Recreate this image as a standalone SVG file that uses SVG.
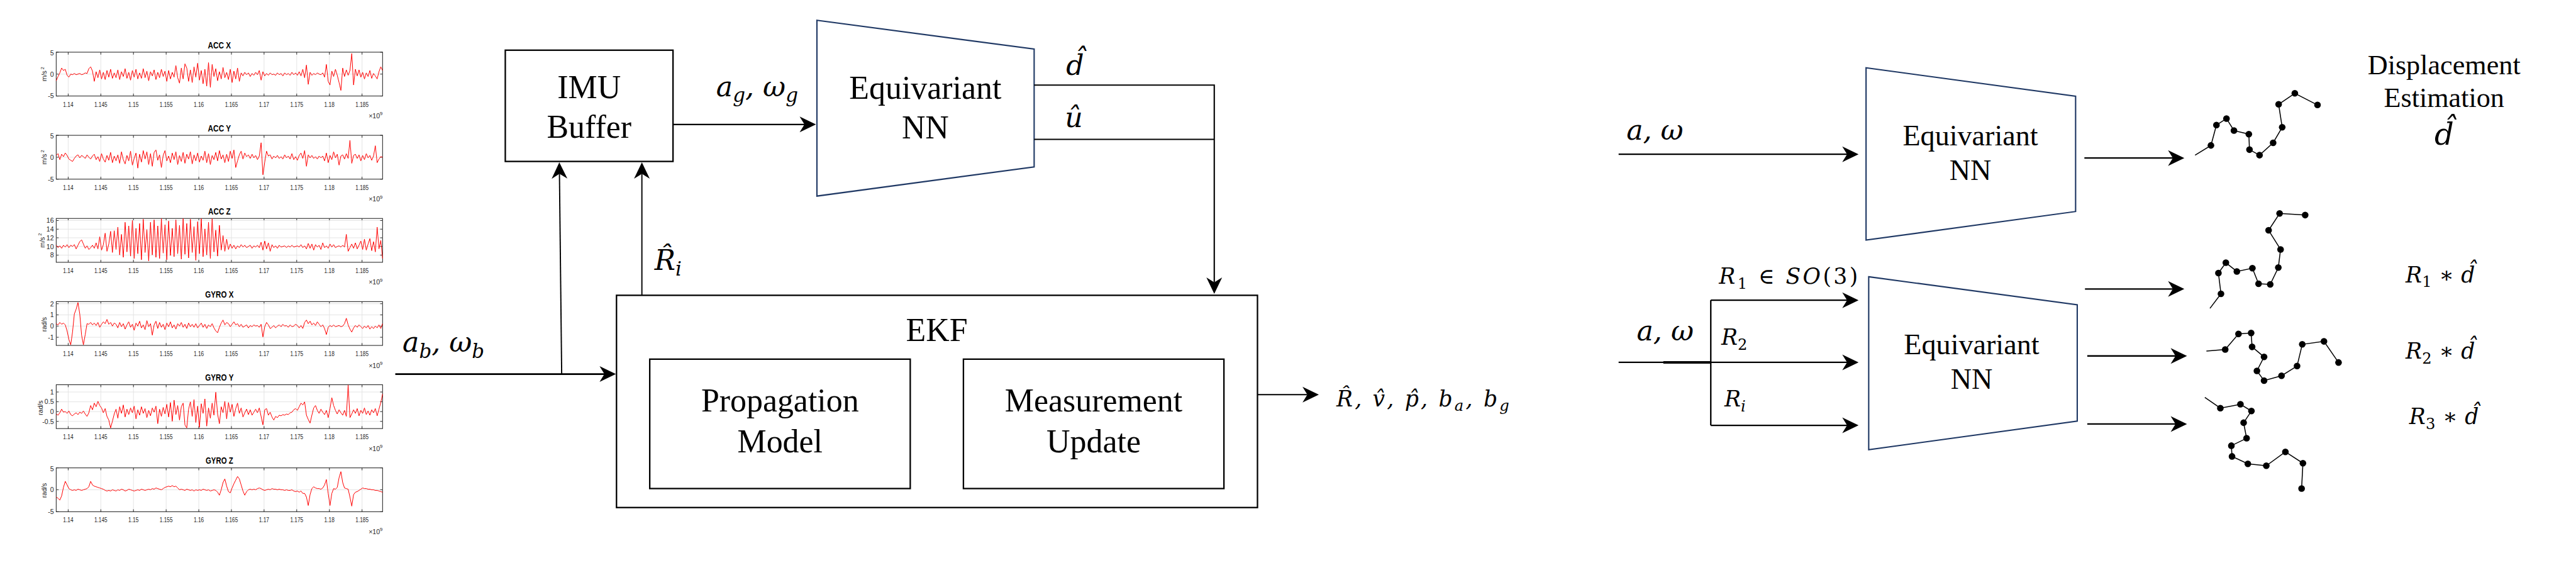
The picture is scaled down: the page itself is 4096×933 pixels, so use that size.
<svg xmlns="http://www.w3.org/2000/svg" width="4096" height="933" viewBox="0 0 4096 933">
<style>
.ax{fill:none;stroke:#262626;stroke-width:1.1}
.gr{fill:none;stroke:#e3e3e3;stroke-width:1}
.tk{fill:none;stroke:#262626;stroke-width:1}
.xt{font-family:"Liberation Sans",Arial,sans-serif;font-size:11px;fill:#262626;text-anchor:middle}
.yt{font-family:"Liberation Sans",Arial,sans-serif;font-size:11px;fill:#262626;text-anchor:end}
.yl{font-family:"Liberation Sans",Arial,sans-serif;font-size:11px;fill:#262626;text-anchor:middle}
.pt{font-family:"Liberation Sans",Arial,sans-serif;font-size:15px;font-weight:bold;fill:#000;text-anchor:middle}
.sig{fill:none;stroke:#ff0000;stroke-width:1;vector-effect:non-scaling-stroke;stroke-linejoin:round}
.bx{fill:#fff;stroke:#000;stroke-width:2.4}
.tz{fill:#fff;stroke:#1f3864;stroke-width:2.2}
.t{font-family:"Liberation Serif","Times New Roman",serif;font-size:54px;fill:#000;text-anchor:middle}
.ln{fill:none;stroke:#000;stroke-width:2.2}
.m{font-family:"DejaVu Serif",serif;font-style:italic;font-size:46px;fill:#000}
.ms{font-family:"DejaVu Serif",serif;font-style:italic;font-size:36px;fill:#000}
.sb{font-size:70%}
.up{font-style:normal}
.tr{fill:none;stroke:#000;stroke-width:1.6}
.dot{fill:#000}
</style>
<defs>
<marker id="ah" markerUnits="userSpaceOnUse" markerWidth="30" markerHeight="30" viewBox="-10 -15 30 30" refX="0" refY="0" orient="auto" overflow="visible"><path d="M19,0 L-8,-13 L0,0 L-8,13 Z" fill="#000"/></marker>
<g id="frame">
<path class="gr" d="M112.8,0V72.5M166.8,0V72.5M220.8,0V72.5M274.9,0V72.5M328.9,0V72.5M382.9,0V72.5M436.9,0V72.5M490.9,0V72.5M545,0V72.5M599,0V72.5"/>
<rect class="ax" x="93" y="0" width="540" height="72.5"/>
<path class="tk" d="M112.8,0v4M166.8,0v4M220.8,0v4M274.9,0v4M328.9,0v4M382.9,0v4M436.9,0v4M490.9,0v4M545,0v4M599,0v4M112.8,72.5v-4M166.8,72.5v-4M220.8,72.5v-4M274.9,72.5v-4M328.9,72.5v-4M382.9,72.5v-4M436.9,72.5v-4M490.9,72.5v-4M545,72.5v-4M599,72.5v-4"/>
<text class="xt" x="112.8" y="90.2" textLength="17" lengthAdjust="spacingAndGlyphs">1.14</text>
<text class="xt" x="166.8" y="90.2" textLength="21.5" lengthAdjust="spacingAndGlyphs">1.145</text>
<text class="xt" x="220.8" y="90.2" textLength="17" lengthAdjust="spacingAndGlyphs">1.15</text>
<text class="xt" x="274.9" y="90.2" textLength="21.5" lengthAdjust="spacingAndGlyphs">1.155</text>
<text class="xt" x="328.9" y="90.2" textLength="17" lengthAdjust="spacingAndGlyphs">1.16</text>
<text class="xt" x="382.9" y="90.2" textLength="21.5" lengthAdjust="spacingAndGlyphs">1.165</text>
<text class="xt" x="436.9" y="90.2" textLength="17" lengthAdjust="spacingAndGlyphs">1.17</text>
<text class="xt" x="490.9" y="90.2" textLength="21.5" lengthAdjust="spacingAndGlyphs">1.175</text>
<text class="xt" x="545" y="90.2" textLength="17" lengthAdjust="spacingAndGlyphs">1.18</text>
<text class="xt" x="599" y="90.2" textLength="21.5" lengthAdjust="spacingAndGlyphs">1.185</text>
<text class="yt" x="633" y="109.5">×10<tspan font-size="8" dy="-5">9</tspan></text>
</g>
</defs>
<g transform="scale(0.96105)">
<rect x="0" y="0" width="4262" height="971" fill="#fff"/>

<g id="imu-plots">
<g id="plot-acc-x">
<use href="#frame" y="86.3"/>
<path class="gr" d="M93,122.55H633"/>
<path class="tk" d="M93,86.3h4M93,122.55h4M93,158.8h4M633,86.3h-4M633,122.55h-4M633,158.8h-4"/>
<text class="yt" x="89" y="91.8">5</text><text class="yt" x="89" y="126.5">0</text><text class="yt" x="89" y="162.8">-5</text>
<text class="yl" transform="translate(77.5,122.5) rotate(-90)">m/s<tspan font-size="8" dx="2" dy="-5">2</tspan></text>
<text class="pt" x="363" y="79.8" textLength="38" lengthAdjust="spacingAndGlyphs">ACC X</text>
<path class="sig" transform="translate(93,122.55) scale(3,1)" d="M0,11L1,4 2,-2 3,-10 4,-6 5,-8 6,2 7,5 8,0 9,1 10,-1 11,1 12,0 13,-1 14,1 15,0 16,-2 17,-1 18,-9 19,-12 20,-5 21,12 22,-4 23,6 24,-7 25,8 26,-3 27,9 28,-6 29,5 30,-8 31,7 32,-2 33,6 34,-7 35,9 36,-4 37,4 38,-9 39,7 40,-3 41,10 42,-6 43,5 44,-8 45,8 46,-2 47,7 48,-9 49,6 50,-5 51,11 52,-4 53,3 54,-7 55,9 56,-3 57,6 58,-8 59,4 60,-5 61,12 62,-6 63,8 64,-3 65,5 66,-14 67,6 68,15 69,-10 70,8 71,-17 72,-10 73,12 74,-7 75,14 76,-12 77,5 78,-18 79,10 80,-6 81,16 82,-8 83,20 84,-19 85,22 86,-16 87,4 88,-9 89,11 90,-4 91,8 92,-11 93,6 94,-3 95,9 96,-8 97,14 98,-5 99,8 100,-10 101,12 102,-2 103,3 104,-3 105,1 106,-2 107,4 108,-1 109,2 110,-3 111,1 112,-6 113,10 114,-4 115,3 116,-1 117,2 118,-2 119,1 120,0 121,2 122,-2 123,1 124,-1 125,3 126,-2 127,1 128,-1 129,2 130,-3 131,1 132,-2 133,2 134,-4 135,3 136,-8 137,6 138,-15 139,17 140,-3 141,2 142,-1 143,1 144,-2 145,0 146,1 147,-2 148,5 149,-16 150,12 151,18 152,-5 153,4 154,-8 155,2 156,14 157,27 158,-10 159,4 160,-7 161,2 162,-6 163,-34 164,18 165,-8 166,3 167,-7 168,5 169,-3 170,8 171,-2 172,4 173,-6 174,7 175,-1 176,3 177,8 178,-4 179,-12 180,-6"/>
</g>
<g id="plot-acc-y">
<use href="#frame" y="223.8"/>
<path class="gr" d="M93,260.05H633"/>
<path class="tk" d="M93,223.8h4M93,260.05h4M93,296.3h4M633,223.8h-4M633,260.05h-4M633,296.3h-4"/>
<text class="yt" x="89" y="229.3">5</text><text class="yt" x="89" y="264">0</text><text class="yt" x="89" y="300.3">-5</text>
<text class="yl" transform="translate(77.5,260) rotate(-90)">m/s<tspan font-size="8" dx="2" dy="-5">2</tspan></text>
<text class="pt" x="363" y="217.3" textLength="38" lengthAdjust="spacingAndGlyphs">ACC Y</text>
<path class="sig" transform="translate(93,260.05) scale(3,1)" d="M0,-3L1,-6 2,4 3,-5 4,-1 5,-7 6,-3 7,3 8,5 9,7 10,2 11,-2 12,-4 13,1 14,-3 15,-1 16,2 17,-4 18,0 19,3 20,-2 21,-5 22,4 23,-1 24,7 25,-6 26,3 27,8 28,-3 29,5 30,-8 31,9 32,-2 33,6 34,-4 35,10 36,-9 37,4 38,11 39,-3 40,6 41,-10 42,13 43,2 44,-7 45,18 46,-5 47,8 48,-11 49,3 50,-9 51,12 52,-6 53,15 54,-8 55,-12 56,5 57,-4 58,17 59,-3 60,-11 61,6 62,-2 63,9 64,-7 65,4 66,-9 67,12 68,-3 69,7 70,-8 71,10 72,-5 73,3 74,-9 75,11 76,-4 77,6 78,-7 79,8 80,-2 81,5 82,-10 83,9 84,-6 85,12 86,-3 87,4 88,-8 89,6 90,-11 91,3 92,-4 93,9 94,-5 95,7 96,-10 97,2 98,-12 99,17 100,6 101,-4 102,-10 103,3 104,-7 105,-1 106,-4 107,2 108,-5 109,1 110,-3 111,4 112,-2 113,-24 114,29 115,8 116,-10 117,-2 118,-4 119,3 120,-2 121,1 122,-3 123,2 124,-1 125,3 126,-4 127,1 128,-2 129,3 130,-6 131,4 132,-1 133,5 134,-3 135,-7 136,2 137,-11 138,15 139,-4 140,1 141,-3 142,2 143,-1 144,3 145,-2 146,1 147,-2 148,6 149,-7 150,9 151,-3 152,4 153,-9 154,1 155,-5 156,13 157,-2 158,-4 159,3 160,-6 161,2 162,-28 163,10 164,-3 165,-5 166,2 167,-4 168,6 169,-3 170,4 171,-6 172,1 173,-3 174,5 175,-2 176,-19 177,9 178,3 179,-1 180,0"/>
</g>
<g id="plot-acc-z">
<use href="#frame" y="361.3"/>
<path class="gr" d="M93,364.7H633M93,379H633M93,393.3H633M93,407.6H633M93,421.9H633"/>
<path class="tk" d="M93,364.7h4M93,379h4M93,393.3h4M93,407.6h4M93,421.9h4M633,364.7h-4M633,379h-4M633,393.3h-4M633,407.6h-4M633,421.9h-4"/>
<text class="yt" x="89" y="368.7">16</text><text class="yt" x="89" y="383">14</text><text class="yt" x="89" y="397.3">12</text><text class="yt" x="89" y="411.6">10</text><text class="yt" x="89" y="425.9">8</text>
<text class="yl" transform="translate(73.5,397.5) rotate(-90)">m/s<tspan font-size="8" dx="2" dy="-5">2</tspan></text>
<text class="pt" x="363" y="354.8" textLength="37" lengthAdjust="spacingAndGlyphs">ACC Z</text>
<path class="sig" transform="translate(93,407.6) scale(3,1)" d="M0,-2L1,2 2,-1 3,3 4,-2 5,1 6,-3 7,2 8,-2 9,0 10,-3 11,4 12,-2 13,-8 14,-11 15,-4 16,3 17,-1 18,5 19,2 20,-2 21,3 22,-6 23,4 24,-16 25,6 26,-3 27,-22 28,8 29,-4 30,-25 31,10 32,-26 33,5 34,-32 35,14 36,-20 37,18 38,-40 39,9 40,-34 41,16 42,-43 43,20 44,-30 45,12 46,-38 47,22 48,-45 49,10 50,-28 51,24 52,-40 53,14 54,-44 55,18 56,-34 57,20 58,-46 59,11 60,-36 61,22 62,-42 63,15 64,-30 65,17 66,-44 67,12 68,-35 69,21 70,-46 71,13 72,-38 73,19 74,-45 75,10 76,-33 77,23 78,-41 79,12 80,-46 81,17 82,-29 83,14 84,-40 85,20 86,-46 87,9 88,-27 89,16 90,-35 91,6 92,-18 93,8 94,-12 95,5 96,-4 97,3 98,-2 99,4 100,-1 101,2 102,-3 103,1 104,-2 105,2 106,0 107,-2 108,3 109,-1 110,1 111,-2 112,2 113,-7 114,6 115,-9 116,4 117,-6 118,8 119,-3 120,2 121,-1 122,3 123,-2 124,1 125,0 126,-1 127,2 128,-1 129,1 130,-2 131,1 132,0 133,-1 134,1 135,-3 136,2 137,-1 138,4 139,-5 140,3 141,-4 142,6 143,-3 144,1 145,-2 146,5 147,-6 148,2 149,-1 150,3 151,-4 152,1 153,-3 154,2 155,0 156,-1 157,1 158,-2 159,1 160,-20 161,8 162,2 163,-4 164,3 165,-6 166,4 167,-2 168,-9 169,5 170,-12 171,6 172,-4 173,-13 174,7 175,-8 176,9 177,-32 178,4 179,-10 180,20"/>
</g>
<g id="plot-gyro-x">
<use href="#frame" y="498.8"/>
<path class="gr" d="M93,502.3H633M93,520.8H633M93,539.3H633M93,557.8H633"/>
<path class="tk" d="M93,502.3h4M93,520.8h4M93,539.3h4M93,557.8h4M633,502.3h-4M633,520.8h-4M633,539.3h-4M633,557.8h-4"/>
<text class="yt" x="89" y="506.3">2</text><text class="yt" x="89" y="524.8">1</text><text class="yt" x="89" y="543.3">0</text><text class="yt" x="89" y="561.8">-1</text>
<text class="yl" transform="translate(77.5,536.5) rotate(-90)">rad/s</text>
<text class="pt" x="363" y="492.3" textLength="47" lengthAdjust="spacingAndGlyphs">GYRO X</text>
<path class="sig" transform="translate(93,539.3) scale(3,1)" d="M0,-4L1,-2 2,-6 3,-3 4,-5 5,-2 6,8 7,22 8,31 9,10 10,-20 11,-28 12,-39 13,-20 14,15 15,31 16,14 17,-4 18,-3 19,-6 20,-2 21,-5 22,-1 23,-6 24,2 25,-3 26,-7 27,-4 28,-11 29,-3 30,-6 31,0 32,-5 33,-3 34,3 35,-6 36,1 37,-4 38,5 39,-2 40,-7 41,2 42,-3 43,7 44,-5 45,0 46,-8 47,3 48,-2 49,6 50,-9 51,1 52,-4 53,15 54,-2 55,-8 56,4 57,-6 58,2 59,-3 60,6 61,-5 62,1 63,-7 64,3 65,-2 66,5 67,-4 68,0 69,-6 70,2 71,-3 72,4 73,-5 74,1 75,-3 76,2 77,-4 78,3 79,-1 80,-5 81,2 82,-3 83,4 84,-2 85,1 86,-4 87,3 88,8 89,11 90,2 91,-5 92,-10 93,-2 94,-6 95,-4 96,1 97,-3 98,-7 99,-2 100,-4 101,1 102,-3 103,2 104,0 105,-2 106,3 107,-1 108,1 109,-2 110,0 111,-1 112,2 113,-3 114,18 115,1 116,-6 117,-2 118,4 119,2 120,-1 121,3 122,0 123,-2 124,1 125,-3 126,0 127,-1 128,2 129,-2 130,1 131,0 132,-3 133,-1 134,3 135,-1 136,4 137,-6 138,-10 139,-4 140,-8 141,-2 142,-5 143,-1 144,-7 145,-3 146,1 147,-2 148,4 149,14 150,2 151,-1 152,1 153,-2 154,1 155,0 156,-1 157,1 158,0 159,-4 160,-13 161,-2 162,5 163,10 164,3 165,-1 166,2 167,-2 168,1 169,4 170,0 171,3 172,-1 173,5 174,1 175,4 176,0 177,3 178,-2 179,4 180,-4"/>
</g>
<g id="plot-gyro-y">
<use href="#frame" y="636.3"/>
<path class="gr" d="M93,648.3H633M93,664.5H633M93,680.7H633M93,696.9H633"/>
<path class="tk" d="M93,648.3h4M93,664.5h4M93,680.7h4M93,696.9h4M633,648.3h-4M633,664.5h-4M633,680.7h-4M633,696.9h-4"/>
<text class="yt" x="89" y="652.3">1</text><text class="yt" x="89" y="668.5">0.5</text><text class="yt" x="89" y="684.7">0</text><text class="yt" x="89" y="700.9">-0.5</text>
<text class="yl" transform="translate(70.5,674.5) rotate(-90)">rad/s</text>
<text class="pt" x="363" y="629.8" textLength="47" lengthAdjust="spacingAndGlyphs">GYRO Y</text>
<path class="sig" transform="translate(93,680.7) scale(3,1)" d="M0,4L1,6 2,2 3,-4 4,1 5,0 6,3 7,-1 8,5 9,7 10,4 11,2 12,5 13,1 14,3 15,-1 16,4 17,8 18,2 19,-10 20,-3 21,-14 22,-8 23,-17 24,-10 25,-6 26,2 27,-5 28,8 29,14 30,27 31,16 32,4 33,-4 34,11 35,-8 36,3 37,-11 38,9 39,-4 40,5 41,-6 42,2 43,-9 44,12 45,-3 46,6 47,-8 48,3 49,-5 50,10 51,-2 52,7 53,-6 54,1 55,-9 56,20 57,-4 58,8 59,-7 60,4 61,-12 62,9 63,-15 64,16 65,-19 66,5 67,-10 68,14 69,-8 70,-14 71,22 72,27 73,-4 74,-16 75,8 76,-20 77,18 78,-9 79,26 80,-13 81,3 82,-21 83,24 84,-6 85,11 86,-14 87,6 88,-32 89,4 90,20 91,-8 92,2 93,-17 94,12 95,-15 96,1 97,-12 98,8 99,-5 100,-14 101,3 102,-6 103,9 104,2 105,-4 106,5 107,-3 108,6 109,1 110,-4 111,2 112,-6 113,8 114,22 115,-3 116,-5 117,6 118,1 119,9 120,14 121,8 122,10 123,6 124,7 125,5 126,6 127,4 128,5 129,2 130,1 131,-3 132,-5 133,-2 134,-8 135,-14 136,-11 137,-16 138,6 139,13 140,19 141,6 142,-6 143,-10 144,-2 145,3 146,-4 147,1 148,5 149,-2 150,10 151,-5 152,-23 153,-10 154,-2 155,4 156,-3 157,2 158,6 159,-2 160,8 161,-44 162,10 163,4 164,-3 165,3 166,-5 167,7 168,-2 169,3 170,-6 171,5 172,-1 173,6 174,-3 175,2 176,-5 177,7 178,-4 179,-15 180,-29"/>
</g>
<g id="plot-gyro-z">
<use href="#frame" y="773.8"/>
<path class="gr" d="M93,810.05H633"/>
<path class="tk" d="M93,773.8h4M93,810.05h4M93,846.3h4M633,773.8h-4M633,810.05h-4M633,846.3h-4"/>
<text class="yt" x="89" y="779.3">5</text><text class="yt" x="89" y="814">0</text><text class="yt" x="89" y="850.3">-5</text>
<text class="yl" transform="translate(77.5,811) rotate(-90)">rad/s</text>
<text class="pt" x="363" y="767.3" textLength="45.5" lengthAdjust="spacingAndGlyphs">GYRO Z</text>
<path class="sig" transform="translate(93,810.05) scale(3,1)" d="M0,12L1,14 2,17 3,10 4,-4 5,-14 6,-8 7,-2 8,0 9,1 10,0 11,1 12,-1 13,0 14,1 15,0 16,-1 17,-2 18,-5 19,-14 20,-8 21,-6 22,-5 23,-4 24,-3 25,-2 26,-1 27,1 28,2 29,1 30,2 31,0 32,1 33,2 34,0 35,1 36,-1 37,0 38,2 39,1 40,-1 41,0 42,1 43,2 44,1 45,0 46,1 47,-1 48,0 49,1 50,0 51,-1 52,0 53,-2 54,-1 55,-3 56,-2 57,-1 58,0 59,-2 60,-4 61,-5 62,-6 63,-5 64,-7 65,-5 66,-6 67,-3 68,0 69,-1 70,0 71,1 72,-1 73,0 74,1 75,0 76,2 77,0 78,1 79,0 80,1 81,-1 82,0 83,1 84,0 85,2 86,1 87,0 88,1 89,4 90,9 91,0 92,-12 93,-18 94,-6 95,3 96,5 97,-3 98,-10 99,-16 100,-22 101,-18 102,-8 103,2 104,9 105,3 106,0 107,-1 108,0 109,-1 110,0 111,-2 112,-3 113,-2 114,0 115,1 116,0 117,-1 118,0 119,-2 120,-1 121,-1 122,0 123,-1 124,0 125,0 126,1 127,0 128,1 129,1 130,0 131,2 132,3 133,2 134,4 135,2 136,6 137,6 138,12 139,26 140,8 141,-2 142,-5 143,-3 144,-2 145,-2 146,-1 147,-3 148,-8 149,-17 150,6 151,26 152,6 153,-2 154,-1 155,-4 156,-20 157,-30 158,-12 159,-3 160,-2 161,-1 162,12 163,27 164,8 165,4 166,3 167,1 168,-1 169,-3 170,-2 171,-2 172,-1 173,-1 174,0 175,0 176,1 177,1 178,2 179,3 180,4"/>
</g>
</g>

<g id="imu-buffer">
<rect class="bx" x="836" y="83" width="277.5" height="184"/>
<text class="t" x="974.7" y="162">IMU</text>
<text class="t" x="974.7" y="228">Buffer</text>
</g>

<g id="equivariant-nn">
<path class="tz" d="M1351.6,33.5L1711,81.2V276L1351.6,324.3Z"/>
<text class="t" x="1531" y="163.6">Equivariant</text>
<text class="t" x="1531" y="229">NN</text>
</g>

<g id="ekf">
<rect class="bx" x="1020" y="488.4" width="1060.5" height="351"/>
<text class="t" x="1550" y="563.5">EKF</text>
<g id="propagation-model">
<rect class="bx" x="1075" y="594" width="431" height="214"/>
<text class="t" x="1290.5" y="680.8">Propagation</text>
<text class="t" x="1290.5" y="747.7">Model</text>
</g>
<g id="measurement-update">
<rect class="bx" x="1594" y="594" width="431" height="214"/>
<text class="t" x="1809.5" y="680.8">Measurement</text>
<text class="t" x="1809.5" y="747.7">Update</text>
</g>
</g>

<g id="equivariant-nn-single">
<path class="tz" d="M3087.4,112.1L3434.1,159.1V349.8L3087.4,397.1Z"/>
<text class="t" style="font-size:48px" x="3260" y="240.6">Equivariant</text>
<text class="t" style="font-size:48px" x="3260" y="297.8">NN</text>
</g>

<g id="equivariant-nn-rotated">
<path class="tz" d="M3091.8,457.7L3436.8,504.1V696.4L3091.8,743.7Z"/>
<text class="t" style="font-size:48px" x="3262" y="585.7">Equivariant</text>
<text class="t" style="font-size:48px" x="3262" y="642.9">NN</text>
</g>

<g id="displacement-estimation">
<text class="t" style="font-size:46px" x="4043.7" y="123.2">Displacement</text>
<text class="t" style="font-size:46px" x="4043.7" y="176.8">Estimation</text>
<text class="m" style="font-size:50px" x="4028" y="239.5">d&#770;</text>
</g>

<g id="trajectory-d">
<polyline class="tr" points="3631.8,256.6 3658,240.5 3667.1,206.8 3683.7,196.1 3696.1,215.9 3720.7,221.8 3721.8,247.5 3738.4,256.6 3760.9,236.2 3775.9,210.5 3770,172.5 3796.8,154.3 3834.3,173.6"/>
<g class="dot"><circle cx="3658" cy="240.5" r="5.5"/><circle cx="3667.1" cy="206.8" r="5.5"/><circle cx="3683.7" cy="196.1" r="5.5"/><circle cx="3696.1" cy="215.9" r="5.5"/><circle cx="3720.7" cy="221.8" r="5.5"/><circle cx="3721.8" cy="247.5" r="5.5"/><circle cx="3738.4" cy="256.6" r="5.5"/><circle cx="3760.9" cy="236.2" r="5.5"/><circle cx="3775.9" cy="210.5" r="5.5"/><circle cx="3770" cy="172.5" r="5.5"/><circle cx="3796.8" cy="154.3" r="5.5"/><circle cx="3834.3" cy="173.6" r="5.5"/></g>
</g>
<g id="trajectory-r1">
<polyline class="tr" points="3656.4,510 3674.6,485.9 3670.4,451.6 3682.7,434.5 3700.9,448.9 3726.6,443.6 3736.8,469.3 3756.1,470.3 3769.5,442.5 3773.2,412.5 3753.4,380.9 3771.6,353 3813.9,355.7"/>
<g class="dot"><circle cx="3674.6" cy="485.9" r="5.5"/><circle cx="3670.4" cy="451.6" r="5.5"/><circle cx="3682.7" cy="434.5" r="5.5"/><circle cx="3700.9" cy="448.9" r="5.5"/><circle cx="3726.6" cy="443.6" r="5.5"/><circle cx="3736.8" cy="469.3" r="5.5"/><circle cx="3756.1" cy="470.3" r="5.5"/><circle cx="3769.5" cy="442.5" r="5.5"/><circle cx="3773.2" cy="412.5" r="5.5"/><circle cx="3753.4" cy="380.9" r="5.5"/><circle cx="3771.6" cy="353" r="5.5"/><circle cx="3813.9" cy="355.7" r="5.5"/></g>
</g>
<g id="trajectory-r2">
<polyline class="tr" points="3650.5,580.7 3681.6,578 3703.6,552.3 3724.5,550.7 3726.1,573.7 3745.9,590.3 3734.1,613.4 3745.9,629.5 3774.8,621.4 3800.5,605.4 3809.1,569.5 3845,564.6 3869.1,599.5"/>
<g class="dot"><circle cx="3681.6" cy="578" r="5.5"/><circle cx="3703.6" cy="552.3" r="5.5"/><circle cx="3724.5" cy="550.7" r="5.5"/><circle cx="3726.1" cy="573.7" r="5.5"/><circle cx="3745.9" cy="590.3" r="5.5"/><circle cx="3734.1" cy="613.4" r="5.5"/><circle cx="3745.9" cy="629.5" r="5.5"/><circle cx="3774.8" cy="621.4" r="5.5"/><circle cx="3800.5" cy="605.4" r="5.5"/><circle cx="3809.1" cy="569.5" r="5.5"/><circle cx="3845" cy="564.6" r="5.5"/><circle cx="3869.1" cy="599.5" r="5.5"/></g>
</g>
<g id="trajectory-r3">
<polyline class="tr" points="3647.9,657.3 3673.6,675 3706.8,668.6 3725,679.8 3712.1,699.1 3717,724.8 3691.8,737.1 3692.9,754.8 3719.1,767.1 3749.6,770.3 3781.2,747.3 3810.2,766.1 3808,807.9"/>
<g class="dot"><circle cx="3673.6" cy="675" r="5.5"/><circle cx="3706.8" cy="668.6" r="5.5"/><circle cx="3725" cy="679.8" r="5.5"/><circle cx="3712.1" cy="699.1" r="5.5"/><circle cx="3717" cy="724.8" r="5.5"/><circle cx="3691.8" cy="737.1" r="5.5"/><circle cx="3692.9" cy="754.8" r="5.5"/><circle cx="3719.1" cy="767.1" r="5.5"/><circle cx="3749.6" cy="770.3" r="5.5"/><circle cx="3781.2" cy="747.3" r="5.5"/><circle cx="3810.2" cy="766.1" r="5.5"/><circle cx="3808" cy="807.9" r="5.5"/></g>
</g>

<g id="connectors">
<path class="ln" style="stroke-width:2.4" d="M1113.5,205.8H1331" marker-end="url(#ah)"/>
<path class="ln" style="stroke-width:2.7" d="M654,618.7H1000" marker-end="url(#ah)"/>
<path class="ln" style="stroke-width:2" d="M929.3,618.7L925.6,287.5" marker-end="url(#ah)"/>
<path class="ln" style="stroke-width:2" d="M1062,488V287.5" marker-end="url(#ah)"/>
<path class="ln" d="M1711,140.8H2009V467" marker-end="url(#ah)"/>
<path class="ln" d="M1711,230.5H2009"/>
<path class="ln" d="M2081,652.7H2163" marker-end="url(#ah)"/>
<path class="ln" style="stroke-width:2.4" d="M2678,255.1H3056" marker-end="url(#ah)"/>
<path class="ln" style="stroke-width:2.4" d="M2678,599.3H2830.5"/>
<path class="ln" style="stroke-width:4" d="M2752,599.3H2830.5"/>
<path class="ln" style="stroke-width:2.4" d="M2830.5,496.5V703.5"/>
<path class="ln" style="stroke-width:2.4" d="M2830.5,496.5H3056" marker-end="url(#ah)"/>
<path class="ln" style="stroke-width:2.4" d="M2830.5,599.3H3056" marker-end="url(#ah)"/>
<path class="ln" style="stroke-width:2.4" d="M2830.5,703.5H3056" marker-end="url(#ah)"/>
<path class="ln" style="stroke-width:2.4" d="M3448.6,261.4H3595" marker-end="url(#ah)"/>
<path class="ln" style="stroke-width:2.4" d="M3449.6,477.9H3595" marker-end="url(#ah)"/>
<path class="ln" style="stroke-width:2.4" d="M3453.4,588.7H3599.4" marker-end="url(#ah)"/>
<path class="ln" style="stroke-width:2.4" d="M3453.4,701.2H3599.4" marker-end="url(#ah)"/>
</g>

<g id="connector-labels">
<text class="m" x="1185" y="158.8">a<tspan class="sb" dy="10">g</tspan><tspan dy="-10">, ω</tspan><tspan class="sb" dy="10">g</tspan></text>
<text class="m" x="1764" y="123.4">d&#770;</text>
<text class="m" x="1762" y="210.6">u&#770;</text>
<text class="m" x="1083" y="446">R&#770;<tspan class="sb" dy="10">i</tspan></text>
<text class="m" x="666" y="581.7">a<tspan class="sb" dy="10">b</tspan><tspan dy="-10">, ω</tspan><tspan class="sb" dy="10">b</tspan></text>
<text class="ms" x="2211" y="671.7" textLength="286">R&#770;, v&#770;, p&#770;, b<tspan class="sb" dy="8">a</tspan><tspan dy="-8">, b</tspan><tspan class="sb" dy="8">g</tspan></text>
<text class="m" x="2691" y="230.9">a, ω</text>
<text class="ms" x="2844" y="469.4" textLength="230">R<tspan class="sb up" dy="8">1</tspan><tspan class="up" dy="-8"> ∈ </tspan>SO<tspan class="up">(3)</tspan></text>
<text class="m" x="2708" y="562.9">a, ω</text>
<text class="ms" x="2848" y="570.2">R<tspan class="sb up" dy="8">2</tspan></text>
<text class="ms" x="2853" y="672">R<tspan class="sb" dy="8">i</tspan></text>
<text class="ms" x="3980" y="467" textLength="115">R<tspan class="sb up" dy="8">1</tspan><tspan class="up" dy="-8"> ∗ </tspan>d&#770;</text>
<text class="ms" x="3980" y="593" textLength="115">R<tspan class="sb up" dy="8">2</tspan><tspan class="up" dy="-8"> ∗ </tspan>d&#770;</text>
<text class="ms" x="3986" y="701.7" textLength="115">R<tspan class="sb up" dy="8">3</tspan><tspan class="up" dy="-8"> ∗ </tspan>d&#770;</text>
</g>
</g>
</svg>
